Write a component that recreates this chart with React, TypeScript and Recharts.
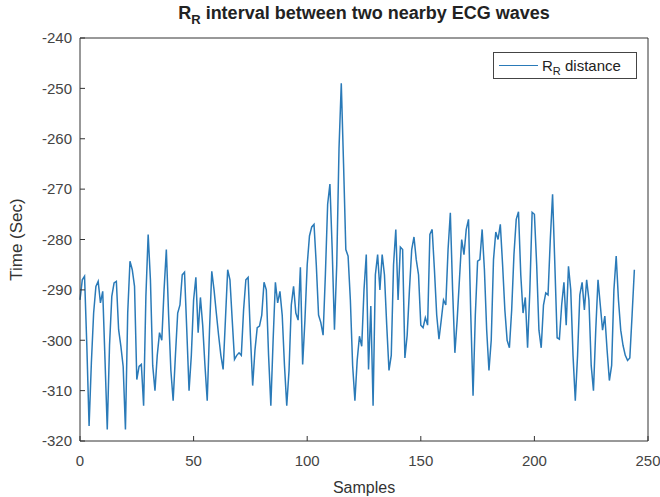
import { LineChart, Line, XAxis, YAxis, Label } from "recharts";

const xTicks = [0, 50, 100, 150, 200, 250];
const yTicks = [-240, -250, -260, -270, -280, -290, -300, -310, -320];

// R-R distance per sample
const rrDistance = [
  -292, -288, -287.3, -301, -317, -304.5, -294.6, -289.3, -288.3, -292.6,
  -290.3, -303.8, -317.7, -301, -291.3, -288.6, -288.3, -297.9, -301.2, -305.2,
  -317.7, -294.6, -284.3, -286, -289.3, -307.8, -305.2, -304.8, -313, -291.3,
  -279, -288, -305, -310, -303, -298.5, -300, -290, -282, -295,
  -306, -312, -303, -294.6, -293, -287, -286.5, -298, -310, -303,
  -292, -287.5, -298.5, -291.5, -297, -305, -312, -298, -286.3, -290,
  -294.6, -299, -303, -305.8, -296, -286, -288, -296, -303.8, -303,
  -302.5, -303, -294, -288, -287.5, -299, -309, -302, -297.5, -297.2,
  -295, -288.5, -290, -303, -313, -300, -288.5, -292.6, -290.3, -295,
  -305, -313, -306, -293, -289.3, -294.6, -296, -285.5, -304.8, -296,
  -285, -279.3, -277.5, -277, -285, -295, -296.5, -299, -287, -273,
  -269, -282, -297.9, -285, -262, -249, -265, -282, -283.3, -292,
  -305, -312, -304, -299.2, -301.2, -290, -283, -305.8, -293.2, -313,
  -287, -283, -290, -283, -287, -297, -306, -303, -285, -278,
  -292, -281.5, -282, -303.5, -299, -290, -282, -279.5, -284, -287,
  -297, -297.5, -295.5, -297, -279, -278, -286, -295, -299.8, -296,
  -292, -293, -282, -274.7, -290, -302.5, -296, -288, -280, -283,
  -278, -276, -295, -311, -295, -284.3, -284, -278, -286, -298,
  -306, -300, -284, -278.5, -280, -277, -285, -294, -300, -301.5,
  -294, -283, -276, -274.5, -287, -294.6, -291.5, -301.5, -290, -274.6,
  -275, -285, -298, -301.5, -293, -290.6, -291, -280, -271, -285,
  -299.5, -299.8, -293, -288.5, -297, -285.3, -290, -303, -312, -303,
  -291, -288.5, -294, -288, -292, -305, -310, -298, -288, -293,
  -298, -295.2, -302, -308, -305, -290, -283.3, -292, -298, -301,
  -303, -304, -303.5, -295, -286,
];

const data = rrDistance.map((v, i) => ({ sample: i, rr: v }));

const FONT = '"Liberation Sans", Arial, sans-serif';
const AXIS = "#333";
const LINE = "#2a7ab8";

export default function App() {
  return (
    <div style={{ position: "absolute", left: 0, top: 0, width: 660, height: 497, background: "#fff" }}>
      <div
        style={{
          position: "absolute",
          left: 80,
          width: 568,
          top: 4,
          lineHeight: 1,
          textAlign: "center",
          fontFamily: FONT,
          fontWeight: "bold",
          fontSize: 18,
          color: "#222",
        }}
      >
        R<sub style={{ fontSize: 13, lineHeight: 0 }}>R</sub> interval between two nearby ECG waves
      </div>
      <LineChart width={660} height={497} data={data} margin={{ top: 37, right: 11, left: 0, bottom: 0 }}>
        <XAxis
          dataKey="sample"
          type="number"
          domain={[0, 250]}
          ticks={xTicks}
          height={56}
          tickSize={-5}
          tickMargin={19}
          stroke={AXIS}
          tick={{ fill: "#444", fontSize: 15, fontFamily: FONT }}
        >
          <Label
            content={({ viewBox }: any) => (
              <text
                x={viewBox.x + viewBox.width / 2}
                y={viewBox.y + 52}
                textAnchor="middle"
                fontFamily={FONT}
                fontSize={16}
                fill="#333"
              >
                Samples
              </text>
            )}
          />
        </XAxis>
        <XAxis
          xAxisId="top"
          dataKey="sample"
          orientation="top"
          type="number"
          domain={[0, 250]}
          ticks={xTicks}
          height={1}
          tickSize={-5}
          tick={false}
          stroke={AXIS}
        />
        <YAxis
          type="number"
          domain={[-320, -240]}
          ticks={yTicks}
          width={80}
          tickSize={-5}
          tickMargin={13}
          stroke={AXIS}
          tick={{ fill: "#444", fontSize: 15, fontFamily: FONT }}
        >
          <Label
            content={({ viewBox }: any) => (
              <text
                x={18}
                y={viewBox.y + viewBox.height / 2}
                transform={`rotate(-90, 18, ${viewBox.y + viewBox.height / 2})`}
                textAnchor="middle"
                dominantBaseline="middle"
                fontFamily={FONT}
                fontSize={17}
                fill="#333"
              >
                Time (Sec)
              </text>
            )}
          />
        </YAxis>
        <YAxis
          yAxisId="right"
          orientation="right"
          type="number"
          domain={[-320, -240]}
          ticks={yTicks}
          width={1}
          tickSize={-5}
          tick={false}
          stroke={AXIS}
        />
        {/* invisible twin so the top/right frame axes are drawn */}
        <Line
          xAxisId="top"
          yAxisId="right"
          dataKey="rr"
          stroke="none"
          dot={false}
          legendType="none"
          isAnimationActive={false}
        />
        <Line
          type="linear"
          dataKey="rr"
          stroke={LINE}
          strokeWidth={1.5}
          dot={false}
          isAnimationActive={false}
        />
      </LineChart>
      <div
        style={{
          position: "absolute",
          left: 493,
          top: 52,
          border: "1px solid #444",
          background: "#fff",
          width: 144,
          height: 27,
          display: "flex",
          alignItems: "center",
          fontFamily: FONT,
          fontSize: 15,
          lineHeight: 1,
          color: "#222",
          boxSizing: "border-box",
        }}
      >
        <div style={{ width: 39, height: 0, borderTop: `1.3px solid ${LINE}`, marginLeft: 5, marginRight: 4 }} />
        <span>
          R<sub style={{ fontSize: 11, lineHeight: 0 }}>R</sub> distance
        </span>
      </div>
    </div>
  );
}
